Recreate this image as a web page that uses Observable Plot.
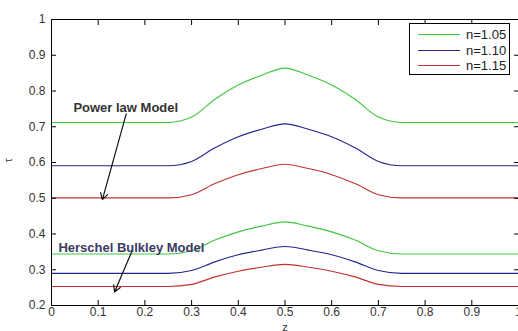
<!DOCTYPE html>
<html>
<head>
<meta charset="utf-8">
<script src="https://cdn.jsdelivr.net/npm/d3@7"></script>
<script src="https://cdn.jsdelivr.net/npm/@observablehq/plot@0.6"></script>
<style>
  html, body { margin: 0; padding: 0; background: #fff; }
  #chart { position: relative; width: 518px; height: 331px; overflow: hidden; }
  #legend { position: absolute; left: 409px; top: 23px; width: 99px; height: 50px; border: 1px solid #000;
            background: #fff; font: 13px "Liberation Sans", Arial, sans-serif; color: #222; box-sizing: content-box; }
  #legend .row { position: absolute; left: 0; height: 15px; display: flex; align-items: center; }
  #legend .sw { display: inline-block; width: 42px; height: 0; border-top: 1px solid; margin-left: 8px; margin-right: 6px; }
</style>
</head>
<body>
<div id="chart"></div>
<script>
const z = [0, 0.25, 0.3, 0.35, 0.4, 0.45, 0.5, 0.55, 0.6, 0.65, 0.7, 0.75, 1];
const seriesNames = ["n=1.05", "n=1.10", "n=1.15"];
const seriesColors = ["#3fc73f", "#26268a", "#c03030"];
// Power law model
const plN105 = [0.712, 0.712, 0.727, 0.777, 0.817, 0.844, 0.864, 0.844, 0.817, 0.777, 0.727, 0.712, 0.712];
const plN110 = [0.591, 0.591, 0.603, 0.641, 0.672, 0.693, 0.708, 0.693, 0.672, 0.641, 0.603, 0.591, 0.591];
const plN115 = [0.501, 0.501, 0.510, 0.541, 0.566, 0.583, 0.595, 0.583, 0.566, 0.541, 0.510, 0.501, 0.501];
// Herschel Bulkley model
const hbN105 = [0.344, 0.344, 0.353, 0.383, 0.406, 0.422, 0.434, 0.422, 0.406, 0.383, 0.353, 0.344, 0.344];
const hbN110 = [0.290, 0.290, 0.298, 0.322, 0.342, 0.355, 0.365, 0.355, 0.342, 0.322, 0.298, 0.290, 0.290];
const hbN115 = [0.253, 0.253, 0.259, 0.280, 0.296, 0.307, 0.315, 0.307, 0.296, 0.280, 0.259, 0.253, 0.253];
const xTicks = [0, 0.1, 0.2, 0.3, 0.4, 0.5, 0.6, 0.7, 0.8, 0.9, 1];
const yTicks = [0.2, 0.3, 0.4, 0.5, 0.6, 0.7, 0.8, 0.9, 1];
const annLabels = ["Power law Model", "Herschel Bulkley Model"];
const annLabelZ = [0.159, 0.171];
const annLabelT = [0.753, 0.361];
const annColors = ["#333333", "#3a3a62"];
const arrowZ1 = [0.160, 0.173];
const arrowT1 = [0.736, 0.354];
const arrowZ2 = [0.109, 0.135];
const arrowT2 = [0.496, 0.238];

const groups = [
  {model: "PL", vals: [plN105, plN110, plN115]},
  {model: "HB", vals: [hbN105, hbN110, hbN115]}
];
const rows = [];
groups.forEach(g => g.vals.forEach((arr, si) => arr.forEach((v, i) =>
  rows.push({z: z[i], tau: v, series: seriesNames[si], key: g.model + si}))));
const anns = annLabels.map((t, i) => ({text: t, x: annLabelZ[i], y: annLabelT[i], color: annColors[i],
  x1: arrowZ1[i], y1: arrowT1[i], x2: arrowZ2[i], y2: arrowT2[i]}));

const fmt = d => d === 0 ? "0" : d === 1 ? "1" : d3.format(".1f")(d);
const font = '"Liberation Sans", Arial, sans-serif';

const chart = Plot.plot({
  width: 518,
  height: 331,
  marginLeft: 51,
  marginRight: 0,
  marginTop: 19,
  marginBottom: 26,
  style: {fontFamily: font, fontSize: "11px", color: "#333", background: "#fff"},
  x: {domain: [0, 1]},
  y: {domain: [0.2, 1]},
  color: {domain: seriesNames, range: seriesColors},
  marks: [
    Plot.line(rows, {x: "z", y: "tau", z: "key", stroke: "series", strokeWidth: 1.1, curve: "monotone-x"}),
    Plot.arrow(anns, {x1: "x1", y1: "y1", x2: "x2", y2: "y2", stroke: "#111", strokeWidth: 1.2, headLength: 9, bend: 0}),
    Plot.text(anns, {x: "x", y: "y", text: "text", fill: "color", fontWeight: "bold", fontSize: 13}),
    Plot.frame({stroke: "#000"}),
    Plot.axisX({ticks: xTicks, tickFormat: fmt, tickSize: -5, tickPadding: 7, stroke: "#000", fill: "#333", fontSize: 12, label: null}),
    Plot.axisX({ticks: xTicks, anchor: "top", tickSize: -5, text: null, stroke: "#000", label: null}),
    Plot.axisY({ticks: yTicks, tickFormat: fmt, tickSize: -5, tickPadding: 11, stroke: "#000", fill: "#333", fontSize: 12, label: null}),
    Plot.axisY({ticks: yTicks, anchor: "right", tickSize: -5, text: null, stroke: "#000", label: null}),
    Plot.text(["z"], {frameAnchor: "bottom", dy: 25, text: d => d, fontSize: 11, fill: "#333"}),
    Plot.text(["τ"], {frameAnchor: "left", dx: -43, rotate: -90, text: d => d, fontSize: 11, fill: "#333"})
  ]
});
const host = document.getElementById("chart");
host.appendChild(chart);

const legend = document.createElement("div");
legend.id = "legend";
seriesNames.forEach((name, i) => {
  const row = document.createElement("div");
  row.className = "row";
  row.style.top = (3 + i * 15.5) + "px";
  const sw = document.createElement("span");
  sw.className = "sw";
  sw.style.borderColor = seriesColors[i];
  const tx = document.createElement("span");
  tx.textContent = name;
  row.appendChild(sw);
  row.appendChild(tx);
  legend.appendChild(row);
});
host.appendChild(legend);
</script>
</body>
</html>
